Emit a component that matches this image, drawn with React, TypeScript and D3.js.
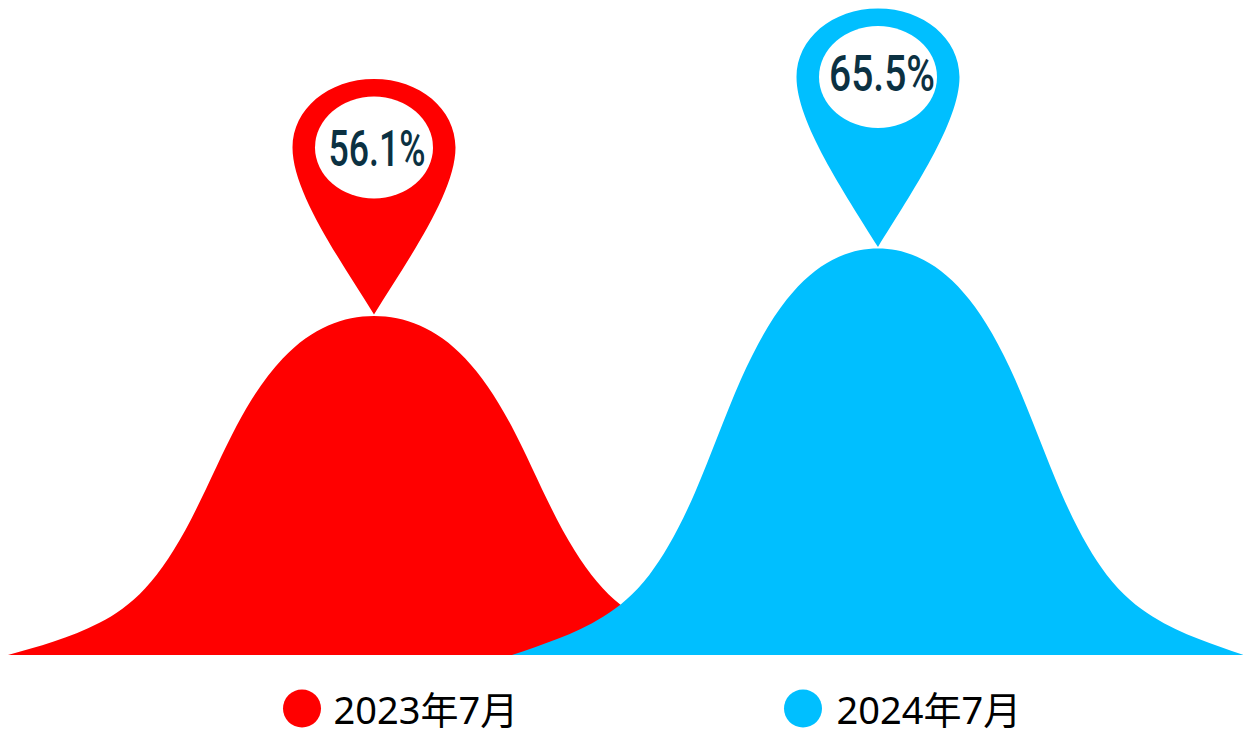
import React from "react";
import * as d3 from "d3";

// Survey periods and their headline percentages
const periods = ["2023年7月", "2024年7月"];
const shares = [56.1, 65.5];
const periodColors = ["#FF0000", "#00BFFF"];
const shareLabels = ["56.1%", "65.5%"];

// Half of the bell outline at even steps from the centre: relative height (1..0)
const bellHeights = [1, 0.972, 0.874, 0.677, 0.4, 0.197, 0.095, 0.04, 0];

const WIDTH = 1243;
const HEIGHT = 731;
const BASELINE = 655;
const BELL_HALF_WIDTH = 366;
const VALUE_FLOOR = 8.89;

const x = d3.scalePoint<string>().domain(periods).range([374, 878]);
const y = d3.scaleLinear().domain([VALUE_FLOOR, 65.5]).range([BASELINE, 248.5]);

// Pin geometry per period
const pinLengths = [167, 170];
const labelWidths = [97, 106];
const labelShift = [3, 4];
const labelBaselineDrop = [19, 13.5];
const legendDotX = [302, 803];
const legendTextX = [333.5, 836.5];

function bellPath(cx: number, value: number): string {
  const height = BASELINE - y(value);
  const steps = bellHeights.length - 1;
  const points: [number, number][] = [
    ...bellHeights.slice().reverse().map((h, i) => [(i - steps) / steps, h] as [number, number]),
    ...bellHeights.slice(1).map((h, i) => [(i + 1) / steps, h] as [number, number]),
  ];
  const area = d3
    .area<[number, number]>()
    .x((p) => cx + p[0] * BELL_HALF_WIDTH)
    .y0(BASELINE)
    .y1((p) => BASELINE - p[1] * height)
    .curve(d3.curveNatural);
  return area(points) ?? "";
}

// Map-pin outline centred on its head, with the tip `len` below the centre
function pinPath(len: number): string {
  const p = d3.path();
  const rx = 81.5;
  const ry = 68.5;
  p.moveTo(0, len);
  p.bezierCurveTo(-34, len - 55, -rx, 45, -rx, 0);
  p.bezierCurveTo(-rx, -ry * 0.56, -rx * 0.56, -ry, 0, -ry);
  p.bezierCurveTo(rx * 0.56, -ry, rx, -ry * 0.56, rx, 0);
  p.bezierCurveTo(rx, 45, 34, len - 55, 0, len);
  p.closePath();
  return p.toString();
}

export default function App() {
  return (
    <svg
      width={WIDTH}
      height={HEIGHT}
      viewBox={`0 0 ${WIDTH} ${HEIGHT}`}
      style={{ position: "absolute", left: 0, top: 0, display: "block", background: "#fff" }}
    >
      {periods.map((period, i) => (
        <path key={period} d={bellPath(x(period) ?? 0, shares[i])} fill={periodColors[i]} />
      ))}
      {periods.map((period, i) => {
        const cx = x(period) ?? 0;
        const tipY = y(shares[i]) - 1.5;
        const headY = tipY - pinLengths[i];
        return (
          <g key={period} transform={`translate(${cx},${headY})`}>
            <path d={pinPath(pinLengths[i])} fill={periodColors[i]} />
            <ellipse cx={0} cy={0} rx={59} ry={51} fill="#fff" />
            <text
              x={labelShift[i] - labelWidths[i] / 2}
              y={labelBaselineDrop[i]}
              textLength={labelWidths[i]}
              lengthAdjust="spacingAndGlyphs"
              fontFamily="Roboto, sans-serif"
              fontWeight={500}
              fontSize={50}
              fill="#0B3142"
            >
              {shareLabels[i]}
            </text>
          </g>
        );
      })}
      {periods.map((period, i) => (
        <g key={period}>
          <circle cx={legendDotX[i]} cy={708.5} r={19} fill={periodColors[i]} />
          <text
            x={legendTextX[i]}
            y={724}
            fontFamily="'Noto Sans', 'Noto Sans CJK SC', sans-serif"
            fontSize={38}
            fill="#000"
          >
            {period}
          </text>
        </g>
      ))}
    </svg>
  );
}
